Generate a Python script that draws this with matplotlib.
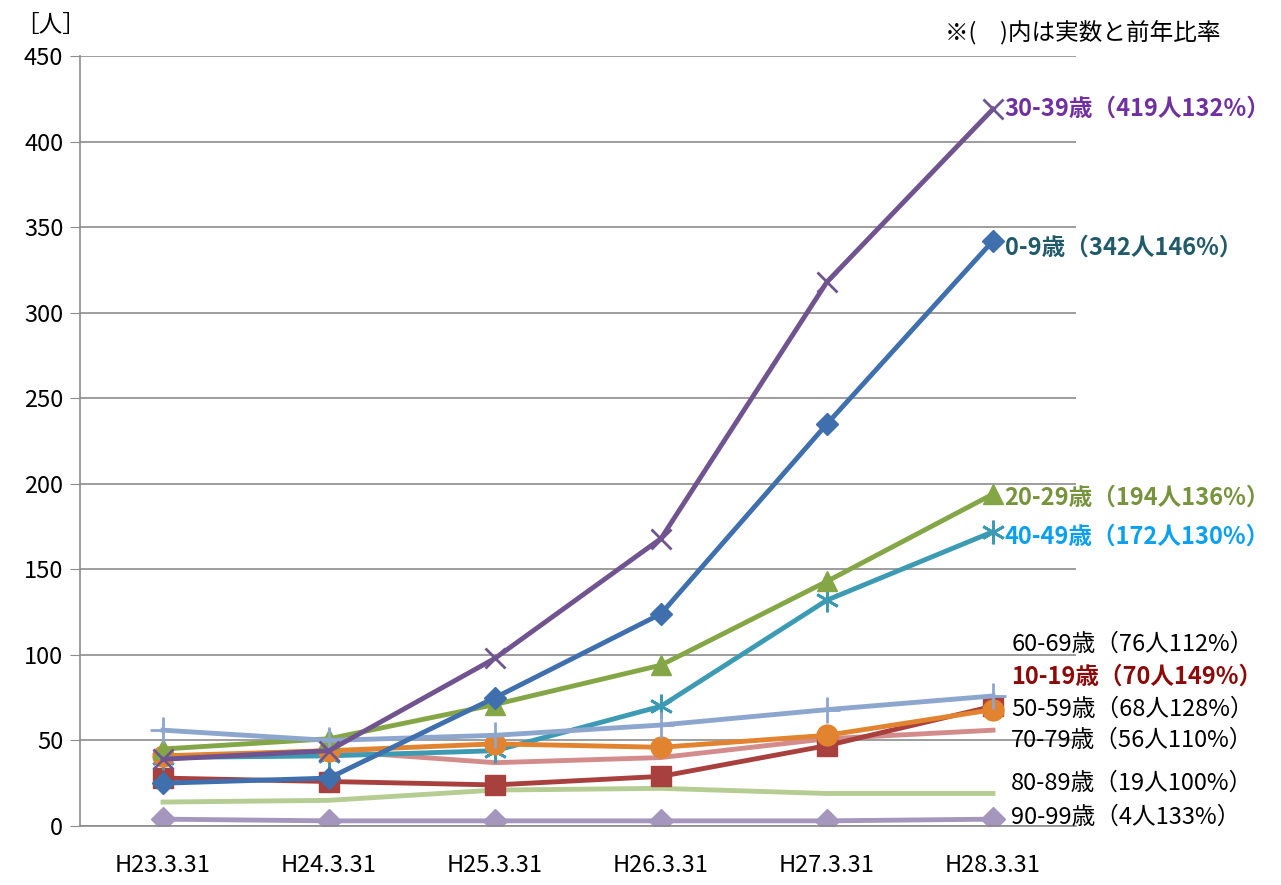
import matplotlib
matplotlib.use("Agg")
import matplotlib.pyplot as plt

plt.rcParams['font.family'] = ['Noto Sans CJK JP', 'DejaVu Sans']

categories = ["H23.3.31", "H24.3.31", "H25.3.31", "H26.3.31", "H27.3.31", "H28.3.31"]

age_0_9 = [25, 28, 75, 124, 235, 342]
age_10_19 = [28, 26, 24, 29, 47, 70]
age_20_29 = [45, 51, 71, 94, 143, 194]
age_30_39 = [39, 44, 98, 168, 318, 419]
age_40_49 = [40, 41, 44, 70, 132, 172]
age_50_59 = [41, 44, 48, 46, 53, 68]
age_60_69 = [56, 50, 53, 59, 68, 76]
age_70_79 = [40, 44, 37, 40, 51, 56]
age_80_89 = [14, 15, 21, 22, 19, 19]
age_90_99 = [4, 3, 3, 3, 3, 4]

labels = {
    "30-39": "30-39歳（419人132%）",
    "0-9": "0-9歳（342人146%）",
    "20-29": "20-29歳（194人136%）",
    "40-49": "40-49歳（172人130%）",
    "60-69": "60-69歳（76人112%）",
    "10-19": "10-19歳（70人149%）",
    "50-59": "50-59歳（68人128%）",
    "70-79": "70-79歳（56人110%）",
    "80-89": "80-89歳（19人100%）",
    "90-99": "90-99歳（4人133%）",
}

fig = plt.figure(figsize=(12.81, 8.85), dpi=100)
ax = fig.add_axes([80/1281, 1-826/885, (1076-80)/1281, (826-56)/885])

x = list(range(len(categories)))
lw = 3.5

# series: (data, color, marker, markersize, zorder)
series = [
    (age_90_99, "#A596BE", "D", 12, 2),
    (age_80_89, "#B5CC93", None, 0, 2),
    (age_70_79, "#D38C8B", None, 0, 3),
    (age_10_19, "#A8403E", "s", 14, 4),
    (age_40_49, "#3C9AB3", (6, 2, 0), 17, 4),
    (age_50_59, "#E2832F", "o", 15, 5),
    (age_60_69, "#8DA6CE", "+", 19, 6),
    (age_20_29, "#85A646", "^", 14, 5),
    (age_0_9, "#3F6FAC", "D", 11, 6),
    (age_30_39, "#70548F", "x", 14, 7),
]
for data, color, marker, ms, z in series:
    kw = dict(color=color, linewidth=lw, zorder=z)
    if marker is not None:
        kw.update(marker=marker, markersize=ms, markeredgecolor=color,
                  markeredgewidth=2 if marker in ("+", "x", (6, 2, 0)) else 1)
    ax.plot(x, data, **kw)

ax.set_xlim(-0.5, 5.5)
ax.set_ylim(0, 450)
ax.set_yticks(range(0, 451, 50))
ax.set_xticks(x)
ax.set_xticklabels(categories)
ax.yaxis.grid(True, color="#8C8C8C", linewidth=1.2)
ax.set_axisbelow(True)
for s in ("top", "right"):
    ax.spines[s].set_visible(False)
ax.spines["left"].set_color("#8C8C8C")
ax.spines["left"].set_linewidth(1.2)
ax.spines["bottom"].set_color("#8C8C8C")
ax.spines["bottom"].set_linewidth(1.2)
ax.tick_params(axis="y", length=7, color="#8C8C8C", labelsize=17, pad=5)
ax.tick_params(axis="x", length=0, labelsize=17, pad=20)

label_specs = [
    ("30-39", 5.07, 419, "#7030A0", "bold"),
    ("0-9", 5.07, 338, "#215A69", "bold"),
    ("20-29", 5.07, 192, "#77933C", "bold"),
    ("40-49", 5.07, 169, "#0AA0F0", "bold"),
    ("60-69", 5.11, 106, "black", "normal"),
    ("10-19", 5.11, 87, "#8B0A0A", "bold"),
    ("50-59", 5.11, 68, "black", "normal"),
    ("70-79", 5.11, 50, "black", "normal"),
    ("80-89", 5.11, 25, "black", "normal"),
    ("90-99", 5.11, 5, "black", "normal"),
]
for key, xx, yy, col, wt in label_specs:
    ax.text(xx, yy, labels[key], color=col, fontsize=17, fontweight=wt,
            va="center", ha="left", clip_on=False)

fig.text(15/1281, 1-25/885, "［人］", fontsize=17, va="center", ha="left")
fig.text(945/1281, 1-33/885, "※(　)内は実数と前年比率", fontsize=17, va="center", ha="left")

fig.savefig("out.png", dpi=100)
